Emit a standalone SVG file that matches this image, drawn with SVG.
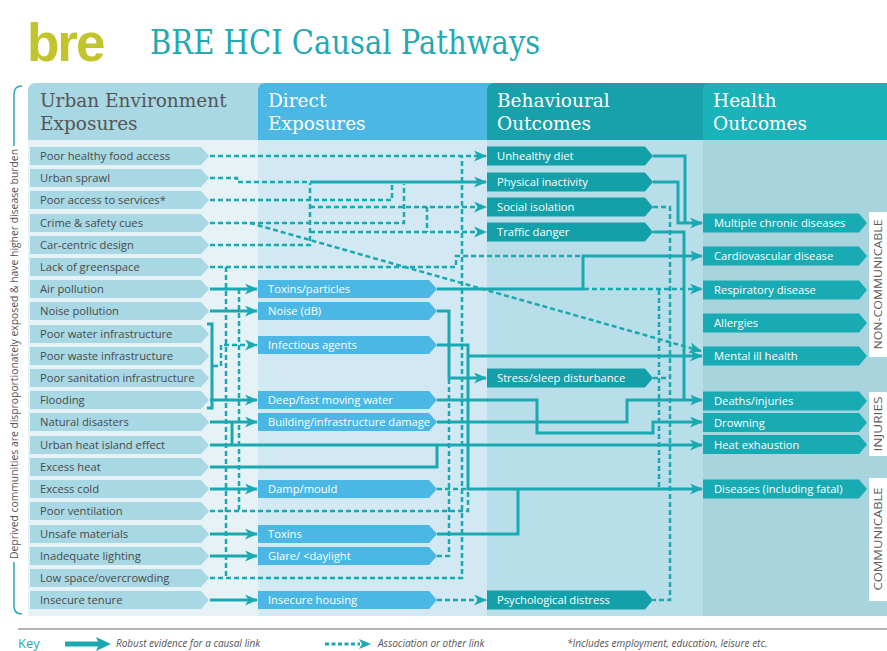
<svg xmlns="http://www.w3.org/2000/svg" width="887" height="651" viewBox="0 0 887 651">
<defs>
<style>
.s{fill:none;stroke:#1ba9b1;stroke-width:3}
.d{fill:none;stroke:#1ba9b1;stroke-width:2.5;stroke-dasharray:5 3}
.ue{fill:#a8d8e3}
.de{fill:#4bb7e5}
.bo{fill:#14a0a8}
.ho{fill:#18abb3}
.t{font-family:"Open Sans","Noto Sans","Liberation Sans",sans-serif;font-size:11.2px}
.tg{fill:#4a4a4a}
.tw{fill:#ffffff}
.h{font-family:"DejaVu Serif","Liberation Serif",serif;font-size:18.5px}
.lab{font-family:"Open Sans","Liberation Sans",sans-serif;font-size:11px;fill:#5a5a5a}
.key{font-family:"Open Sans","Liberation Sans",sans-serif;font-size:10px;font-style:italic;fill:#555555}
.br{fill:none;stroke:#2aa7b1;stroke-width:1.5}
</style>
<marker id="a" markerUnits="userSpaceOnUse" markerWidth="13" markerHeight="11" viewBox="0 0 13 11" refX="12" refY="5.5" orient="auto"><path d="M0,0 L13,5.5 L0,11 L3.5,5.5 Z" fill="#1ba9b1"/></marker>
</defs>
<rect width="887" height="651" fill="#ffffff"/>

<g id="title">
<text x="27" y="61" font-family="Liberation Sans, Arial, sans-serif" font-size="53" font-weight="bold" letter-spacing="-2" fill="#c1c42b">bre</text>
<text transform="translate(150,54) scale(0.88,1)" font-family="DejaVu Serif, Liberation Serif, serif" font-size="33" fill="#22a9b2">BRE HCI Causal Pathways</text>
</g>

<g id="columns">
<rect x="28" y="140" width="230" height="476" fill="#e6f2f6"/>
<rect x="258" y="140" width="229" height="476" fill="#d2e8f2"/>
<rect x="487" y="140" width="216" height="476" fill="#b8dee9"/>
<rect x="703" y="140" width="184" height="476" fill="#a8d4dd"/>
<path d="M28,140 V91 Q28,83 36,83 H266 V140 Z" fill="#a8d8e3"/>
<path d="M258,140 V91 Q258,83 266,83 H495 V140 Z" fill="#4bb7e5"/>
<path d="M487,140 V91 Q487,83 495,83 H711 V140 Z" fill="#17a1ab"/>
<path d="M703,140 V91 Q703,83 711,83 H887 V140 Z" fill="#1ab3b9"/>
<text class="h" x="40" y="107" fill="#555555">Urban Environment</text>
<text class="h" x="40" y="130" fill="#555555">Exposures</text>
<text class="h" x="268" y="107" fill="#ffffff">Direct</text>
<text class="h" x="268" y="130" fill="#ffffff">Exposures</text>
<text class="h" x="497" y="107" fill="#ffffff">Behavioural</text>
<text class="h" x="497" y="130" fill="#ffffff">Outcomes</text>
<text class="h" x="713" y="107" fill="#ffffff">Health</text>
<text class="h" x="713" y="130" fill="#ffffff">Outcomes</text>
</g>

<g id="bracket">
<path class="br" d="M22,86 Q14,86 14,94 V146"/>
<path class="br" d="M14,562 V606 Q14,614 22,614"/>
<text transform="translate(18,354) rotate(-90)" text-anchor="middle" textLength="410" lengthAdjust="spacingAndGlyphs" font-family="Open Sans, Liberation Sans, sans-serif" font-size="10.5" fill="#555555">Deprived communities are disproportionately exposed &amp; have higher disease burden</text>
</g>

<g id="connectors">
<path class="s" d="M210,289 H257" marker-end="url(#a)"/>
<path class="s" d="M210,311 H257" marker-end="url(#a)"/>
<path class="s" d="M210,400 H257" marker-end="url(#a)"/>
<path class="s" d="M210,422 H257" marker-end="url(#a)"/>
<path class="s" d="M210,445 H702" marker-end="url(#a)"/>
<path class="s" d="M210,467 H437 V445"/>
<path class="s" d="M210,489 H257" marker-end="url(#a)"/>
<path class="s" d="M210,534 H257" marker-end="url(#a)"/>
<path class="s" d="M210,556 H257" marker-end="url(#a)"/>
<path class="s" d="M210,600 H257" marker-end="url(#a)"/>
<path class="s" d="M207,324 H212 V408 H207"/>
<path class="s" d="M232,422 V445"/>
<path class="s" d="M310,182 H486" marker-end="url(#a)"/>
<path class="s" d="M437,289 H583 V256 H702" marker-end="url(#a)"/>
<path class="s" d="M437,311 H449 V378 H486" marker-end="url(#a)"/>
<path class="s" d="M437,345 H468 V489 H702" marker-end="url(#a)"/>
<path class="s" d="M468,356 H702" marker-end="url(#a)"/>
<path class="s" d="M437,400 H537 V433 H653 V422 H702" marker-end="url(#a)"/>
<path class="s" d="M437,422 H627 V400 H702" marker-end="url(#a)"/>
<path class="s" d="M437,534 H518 V489"/>
<path class="s" d="M653,156 H685 V223"/>
<path class="s" d="M653,182 H678 V223 H702" marker-end="url(#a)"/>
<path class="s" d="M653,232 H684 V400"/>
<path class="d" d="M210,156 H486" marker-end="url(#a)"/>
<path class="d" d="M210,178 H237 V182 H310"/>
<path class="d" d="M210,200 H392 V184"/>
<path class="d" d="M210,223 H404 V184"/>
<path class="d" d="M210,245 H310 V183"/>
<path class="d" d="M310,207 H486" marker-end="url(#a)"/>
<path class="d" d="M310,232 H486" marker-end="url(#a)"/>
<path class="d" d="M427,207 V232"/>
<path class="d" d="M250,223 L701,351" marker-end="url(#a)"/>
<path class="d" d="M210,267 H456 V256 H582"/>
<path class="d" d="M584,289 H702" marker-end="url(#a)"/>
<path class="d" d="M226,267 V578"/>
<path class="d" d="M239,289 V511"/>
<path class="d" d="M213,366 H221 V345 H257" marker-end="url(#a)"/>
<path class="d" d="M210,511 H468 V490"/>
<path class="d" d="M437,556 H449 V379"/>
<path class="d" d="M210,578 H462 V157"/>
<path class="d" d="M437,489 H467"/>
<path class="d" d="M437,600 H486" marker-end="url(#a)"/>
<path class="d" d="M653,207 H670 V600 H653"/>
<path class="d" d="M653,378 H670"/>
<path class="d" d="M659,290 V488"/>
</g>

<g id="n-poor-healthy-food-access"><path class="ue" d="M30,147H201L209,156L201,165H30Z"/><text class="t tg" x="40" y="160">Poor healthy food access</text></g>
<g id="n-urban-sprawl"><path class="ue" d="M30,169H201L209,178L201,187H30Z"/><text class="t tg" x="40" y="182">Urban sprawl</text></g>
<g id="n-poor-access-to-services"><path class="ue" d="M30,191H201L209,200L201,209H30Z"/><text class="t tg" x="40" y="204">Poor access to services*</text></g>
<g id="n-crime-safety-cues"><path class="ue" d="M30,214H201L209,223L201,232H30Z"/><text class="t tg" x="40" y="227">Crime &amp; safety cues</text></g>
<g id="n-car-centric-design"><path class="ue" d="M30,236H201L209,245L201,254H30Z"/><text class="t tg" x="40" y="249">Car-centric design</text></g>
<g id="n-lack-of-greenspace"><path class="ue" d="M30,258H201L209,267L201,276H30Z"/><text class="t tg" x="40" y="271">Lack of greenspace</text></g>
<g id="n-air-pollution"><path class="ue" d="M30,280H201L209,289L201,298H30Z"/><text class="t tg" x="40" y="293">Air pollution</text></g>
<g id="n-noise-pollution"><path class="ue" d="M30,302H201L209,311L201,320H30Z"/><text class="t tg" x="40" y="315">Noise pollution</text></g>
<g id="n-poor-water-infrastructure"><path class="ue" d="M30,325H201L209,334L201,343H30Z"/><text class="t tg" x="40" y="338">Poor water infrastructure</text></g>
<g id="n-poor-waste-infrastructure"><path class="ue" d="M30,347H201L209,356L201,365H30Z"/><text class="t tg" x="40" y="360">Poor waste infrastructure</text></g>
<g id="n-poor-sanitation-infrastructure"><path class="ue" d="M30,369H201L209,378L201,387H30Z"/><text class="t tg" x="40" y="382">Poor sanitation infrastructure</text></g>
<g id="n-flooding"><path class="ue" d="M30,391H201L209,400L201,409H30Z"/><text class="t tg" x="40" y="404">Flooding</text></g>
<g id="n-natural-disasters"><path class="ue" d="M30,413H201L209,422L201,431H30Z"/><text class="t tg" x="40" y="426">Natural disasters</text></g>
<g id="n-urban-heat-island-effect"><path class="ue" d="M30,436H201L209,445L201,454H30Z"/><text class="t tg" x="40" y="449">Urban heat island effect</text></g>
<g id="n-excess-heat"><path class="ue" d="M30,458H201L209,467L201,476H30Z"/><text class="t tg" x="40" y="471">Excess heat</text></g>
<g id="n-excess-cold"><path class="ue" d="M30,480H201L209,489L201,498H30Z"/><text class="t tg" x="40" y="493">Excess cold</text></g>
<g id="n-poor-ventilation"><path class="ue" d="M30,502H201L209,511L201,520H30Z"/><text class="t tg" x="40" y="515">Poor ventilation</text></g>
<g id="n-unsafe-materials"><path class="ue" d="M30,525H201L209,534L201,543H30Z"/><text class="t tg" x="40" y="538">Unsafe materials</text></g>
<g id="n-inadequate-lighting"><path class="ue" d="M30,547H201L209,556L201,565H30Z"/><text class="t tg" x="40" y="560">Inadequate lighting</text></g>
<g id="n-low-space-overcrowding"><path class="ue" d="M30,569H201L209,578L201,587H30Z"/><text class="t tg" x="40" y="582">Low space/overcrowding</text></g>
<g id="n-insecure-tenure"><path class="ue" d="M30,591H201L209,600L201,609H30Z"/><text class="t tg" x="40" y="604">Insecure tenure</text></g>

<g id="n-toxins-particles"><path class="de" d="M258,280H429L437,289L429,298H258Z"/><text class="t tw" x="268" y="293">Toxins/particles</text></g>
<g id="n-noise-db"><path class="de" d="M258,302H429L437,311L429,320H258Z"/><text class="t tw" x="268" y="315">Noise (dB)</text></g>
<g id="n-infectious-agents"><path class="de" d="M258,336H429L437,345L429,354H258Z"/><text class="t tw" x="268" y="349">Infectious agents</text></g>
<g id="n-deep-fast-moving-water"><path class="de" d="M258,391H429L437,400L429,409H258Z"/><text class="t tw" x="268" y="404">Deep/fast moving water</text></g>
<g id="n-building-infrastructure-damage"><path class="de" d="M258,413H429L437,422L429,431H258Z"/><text class="t tw" x="268" y="426" textLength="162" lengthAdjust="spacingAndGlyphs">Building/infrastructure damage</text></g>
<g id="n-damp-mould"><path class="de" d="M258,480H429L437,489L429,498H258Z"/><text class="t tw" x="268" y="493">Damp/mould</text></g>
<g id="n-toxins"><path class="de" d="M258,525H429L437,534L429,543H258Z"/><text class="t tw" x="268" y="538">Toxins</text></g>
<g id="n-glare-daylight"><path class="de" d="M258,547H429L437,556L429,565H258Z"/><text class="t tw" x="268" y="560">Glare/ &lt;daylight</text></g>
<g id="n-insecure-housing"><path class="de" d="M258,591H429L437,600L429,609H258Z"/><text class="t tw" x="268" y="604">Insecure housing</text></g>

<g id="n-unhealthy-diet"><path class="bo" d="M487,146.5H645L653,156L645,165.5H487Z"/><text class="t tw" x="497" y="160">Unhealthy diet</text></g>
<g id="n-physical-inactivity"><path class="bo" d="M487,172.5H645L653,182L645,191.5H487Z"/><text class="t tw" x="497" y="186">Physical inactivity</text></g>
<g id="n-social-isolation"><path class="bo" d="M487,197.5H645L653,207L645,216.5H487Z"/><text class="t tw" x="497" y="211">Social isolation</text></g>
<g id="n-traffic-danger"><path class="bo" d="M487,222.5H645L653,232L645,241.5H487Z"/><text class="t tw" x="497" y="236">Traffic danger</text></g>
<g id="n-stress-sleep-disturbance"><path class="bo" d="M487,368.5H645L653,378L645,387.5H487Z"/><text class="t tw" x="497" y="382">Stress/sleep disturbance</text></g>
<g id="n-psychological-distress"><path class="bo" d="M487,590.5H645L653,600L645,609.5H487Z"/><text class="t tw" x="497" y="604">Psychological distress</text></g>

<g id="n-multiple-chronic-diseases"><path class="ho" d="M703,213.5H859L867,223L859,232.5H703Z"/><text class="t tw" x="714" y="227">Multiple chronic diseases</text></g>
<g id="n-cardiovascular-disease"><path class="ho" d="M703,246.5H859L867,256L859,265.5H703Z"/><text class="t tw" x="714" y="260">Cardiovascular disease</text></g>
<g id="n-respiratory-disease"><path class="ho" d="M703,280.5H859L867,290L859,299.5H703Z"/><text class="t tw" x="714" y="294">Respiratory disease</text></g>
<g id="n-allergies"><path class="ho" d="M703,313.5H859L867,323L859,332.5H703Z"/><text class="t tw" x="714" y="327">Allergies</text></g>
<g id="n-mental-ill-health"><path class="ho" d="M703,346.5H859L867,356L859,365.5H703Z"/><text class="t tw" x="714" y="360">Mental ill health</text></g>
<g id="n-deaths-injuries"><path class="ho" d="M703,391.5H859L867,401L859,410.5H703Z"/><text class="t tw" x="714" y="405">Deaths/injuries</text></g>
<g id="n-drowning"><path class="ho" d="M703,413H859L867,422.5L859,432H703Z"/><text class="t tw" x="714" y="426.5">Drowning</text></g>
<g id="n-heat-exhaustion"><path class="ho" d="M703,435H859L867,444.5L859,454H703Z"/><text class="t tw" x="714" y="448.5">Heat exhaustion</text></g>
<g id="n-diseases-including-fatal"><path class="ho" d="M703,479.5H859L867,489L859,498.5H703Z"/><text class="t tw" x="714" y="493">Diseases (including fatal)</text></g>

<g id="side-labels">
<rect x="869" y="212" width="18" height="145" fill="#ffffff"/>
<text class="lab" transform="translate(881.5,284.5) rotate(-90)" text-anchor="middle" textLength="130" lengthAdjust="spacingAndGlyphs">NON-COMMUNICABLE</text>
<rect x="869" y="392" width="18" height="64" fill="#ffffff"/>
<text class="lab" transform="translate(881.5,424) rotate(-90)" text-anchor="middle" textLength="55" lengthAdjust="spacingAndGlyphs">INJURIES</text>
<rect x="869" y="478" width="18" height="123" fill="#ffffff"/>
<text class="lab" transform="translate(881.5,539) rotate(-90)" text-anchor="middle" textLength="103" lengthAdjust="spacingAndGlyphs">COMMUNICABLE</text>
</g>

<g id="key">
<line x1="18" y1="629" x2="887" y2="629" stroke="#9a9a9a" stroke-width="1.5"/>
<text x="18" y="648" font-family="Open Sans, Liberation Sans, sans-serif" font-size="13" fill="#2aa7b1">Key</text>
<path d="M65,641.5 H98 L96,637 L111,644 L96,651 L98,646.5 H65 Z" fill="#1ba9b1"/>
<text class="key" x="116" y="647">Robust evidence for a causal link</text>
<path d="M325,644 H360" fill="none" stroke="#1ba9b1" stroke-width="3" stroke-dasharray="4 2.5"/>
<path d="M359,639 L371,644 L359,649 L362,644 Z" fill="#1ba9b1"/>
<text class="key" x="378" y="647">Association or other link</text>
<text class="key" x="567" y="647">*Includes employment, education, leisure etc.</text>
</g>
</svg>
